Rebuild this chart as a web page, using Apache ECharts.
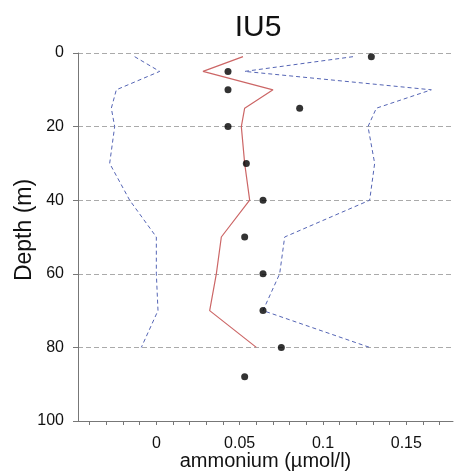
<!DOCTYPE html>
<html>
<head>
<meta charset="utf-8">
<script src="https://cdn.jsdelivr.net/npm/echarts@6/dist/echarts.min.js"></script>
<style>html,body{margin:0;padding:0;background:#fff}#c{width:454px;height:473px}</style>
</head>
<body>
<div id="c"></div>
<script>
// Data
const depthTicks = [0, 20, 40, 60, 80, 100];
const xLabelValues = [0, 0.05, 0.1, 0.15];
const xTickValues = [-0.04, -0.03, -0.02, -0.01, 0, 0.01, 0.02, 0.03, 0.04, 0.05, 0.06, 0.07, 0.08, 0.09, 0.1, 0.11, 0.12, 0.13, 0.14, 0.15, 0.16, 0.17];

const obsDepth = [1, 5, 10, 15, 20, 30, 40, 50, 60, 70, 80, 88];
const obsValue = [0.129, 0.043, 0.043, 0.086, 0.043, 0.054, 0.064, 0.053, 0.064, 0.064, 0.075, 0.053];

const modelDepth = [1, 5, 10, 15, 20, 30, 40, 50, 60, 70, 80];
const modelMean = [0.052, 0.028, 0.070, 0.053, 0.051, 0.053, 0.056, 0.039, 0.036, 0.032, 0.060];
const modelLow = [-0.013, 0.002, -0.024, -0.027, -0.025, -0.028, -0.016, 0.000, 0.000, 0.001, -0.009];
const modelHigh = [0.118, 0.053, 0.165, 0.132, 0.127, 0.131, 0.128, 0.077, 0.074, 0.064, 0.128];

const pair = (vals, depths) => vals.map((v, i) => [v, depths[i]]);

const font = 'Liberation Sans, Arial, sans-serif';
const chart = echarts.init(document.getElementById('c'), null, {renderer: 'canvas'});
chart.setOption({
  animation: false,
  backgroundColor: '#fff',
  title: {
    text: 'IU5', left: 253, top: 8, textAlign: 'center',
    textStyle: {fontFamily: font, fontSize: 30, fontWeight: 'normal', color: '#111'}
  },
  grid: {left: 78, right: 1, top: 53, bottom: 52, containLabel: false, outerBoundsMode: 'none'},
  xAxis: {
    type: 'value', min: -0.047, max: 0.178,
    name: 'ammonium (µmol/l)', nameLocation: 'middle', nameGap: 30, nameMoveOverlap: false,
    nameTextStyle: {fontFamily: font, fontSize: 20, color: '#111'},
    axisLine: {show: true, onZero: false, lineStyle: {color: '#777', width: 1}},
    axisTick: {show: true, length: 4, customValues: xTickValues, lineStyle: {color: '#777'}},
    axisLabel: {customValues: xLabelValues, margin: 15, fontFamily: font, fontSize: 16, color: '#111',
      formatter: v => String(+v.toFixed(3))},
    splitLine: {show: false}
  },
  yAxis: {
    type: 'value', inverse: true, min: 0, max: 100, interval: 20,
    name: 'Depth (m)', nameLocation: 'middle', nameGap: 42, nameRotate: 90, nameMoveOverlap: false,
    nameTextStyle: {fontFamily: font, fontSize: 23, color: '#111', padding: [0, 0, 0, 14]},
    axisLine: {show: true, onZero: false, lineStyle: {color: '#777', width: 1}},
    axisTick: {show: true, length: 5, lineStyle: {color: '#777'}},
    axisLabel: {margin: 14, fontFamily: font, fontSize: 16, color: '#111'},
    splitLine: {show: true, lineStyle: {color: '#aaa', type: [5, 3], width: 1}}
  },
  series: [
    {type: 'line', data: pair(modelLow, modelDepth), symbol: 'none',
     lineStyle: {color: '#5565b5', width: 1, type: [4, 3]}, z: 2},
    {type: 'line', data: pair(modelHigh, modelDepth), symbol: 'none',
     lineStyle: {color: '#5565b5', width: 1, type: [4, 3]}, z: 2},
    {type: 'line', data: pair(modelMean, modelDepth), symbol: 'none',
     lineStyle: {color: '#cc6666', width: 1.2}, z: 3},
    {type: 'scatter', data: pair(obsValue, obsDepth), symbol: 'circle', symbolSize: 7,
     itemStyle: {color: '#000'}, z: 4}
  ]
});
</script>
</body>
</html>
